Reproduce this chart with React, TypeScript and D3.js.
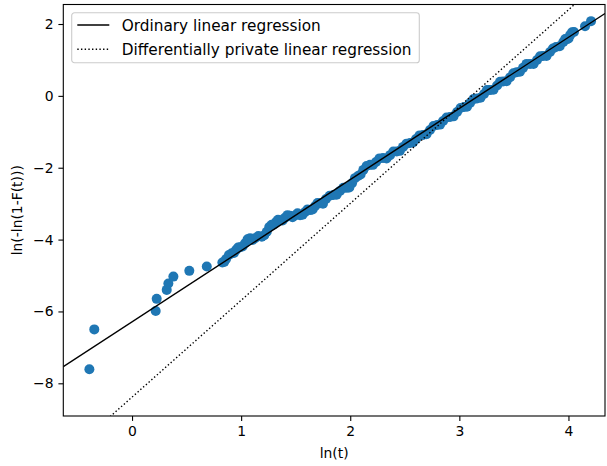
import React, { useRef, useEffect } from 'react';
import * as d3 from 'd3';

// constants
const width = 607;
const height = 466;
const margin = { top: 4.5, right: 2, bottom: 50, left: 63.3 };
const innerWidth = width - margin.left - margin.right;
const innerHeight = height - margin.top - margin.bottom;
const font = 'DejaVu Sans, sans-serif';
const fontSize = 13.9;
const legendFontSize = 15.3;

const lnT = [
  -0.391, -0.346, 0.217, 0.226, 0.318, 0.333, 0.379, 0.525, 0.685,
  0.828, 0.862, 0.914, 0.953, 0.99, 1.036, 1.082, 1.127, 1.189, 1.235,
  1.28, 1.32, 1.357, 1.402, 1.448, 1.494, 1.54, 1.586, 1.632, 1.677,
  1.723, 1.778, 1.845, 1.906, 1.968, 2.016, 2.071, 2.12, 2.181, 2.236,
  2.301, 2.365, 2.426, 2.484, 2.548, 2.603, 2.667, 2.731, 2.796, 2.851,
  2.915, 2.979, 3.043, 3.098, 3.162, 3.226, 3.281, 3.346, 3.401, 3.465,
  3.526, 3.584, 3.648, 3.712, 3.767, 3.831, 3.886, 3.953, 3.987, 4.015,
  4.051, 4.152, 4.207,
  0.845, 0.888, 0.934, 0.972, 1.013, 1.059, 1.105, 1.158, 1.212, 1.258,
  1.3, 1.338, 1.38, 1.425, 1.471, 1.517, 1.563, 1.609, 1.655, 1.7,
  1.75, 1.811, 1.875, 1.937, 1.992, 2.043, 2.095, 2.15, 2.208, 2.268,
  2.333, 2.395, 2.455, 2.516, 2.575, 2.635, 2.699, 2.763, 2.823, 2.883,
  2.947, 3.011, 3.07, 3.13, 3.194, 3.253, 3.313, 3.373, 3.433, 3.495,
  3.555, 3.616, 3.68, 3.74, 3.799, 3.858, 3.92, 3.97, 4.001, 4.033,
];

// ln(-ln(1-F(t))) for the same observations
const lnLnF = [
  -7.61, -6.5, -5.99, -5.65, -5.4, -5.22, -5.03, -4.87, -4.75,
  -4.64, -4.54, -4.38, -4.29, -4.21, -4.1, -3.96, -3.96, -3.92, -3.78,
  -3.59, -3.51, -3.46, -3.39, -3.34, -3.33, -3.32, -3.23, -3.18, -3.07,
  -2.99, -2.87, -2.76, -2.65, -2.56, -2.43, -2.23, -2.06, -1.92, -1.84,
  -1.73, -1.65, -1.55, -1.42, -1.31, -1.2, -1.09, -0.95, -0.81, -0.7,
  -0.59, -0.45, -0.31, -0.2, -0.07, 0.05, 0.16, 0.29, 0.4, 0.52,
  0.66, 0.78, 0.89, 1.0, 1.11, 1.22, 1.36, 1.5, 1.58, 1.69,
  1.78, 1.94, 2.08,
  -4.62, -4.43, -4.37, -4.22, -4.19, -3.99, -4.01, -3.9, -3.88, -3.65,
  -3.58, -3.45, -3.47, -3.32, -3.38, -3.27, -3.31, -3.16, -3.16, -2.98,
  -3.0, -2.78, -2.75, -2.56, -2.55, -2.29, -2.19, -1.95, -1.92, -1.74,
  -1.74, -1.55, -1.53, -1.33, -1.3, -1.1, -1.07, -0.84, -0.8, -0.6,
  -0.57, -0.34, -0.3, -0.09, -0.05, 0.16, 0.17, 0.39, 0.41, 0.63,
  0.67, 0.89, 0.89, 1.1, 1.11, 1.32, 1.38, 1.58, 1.6, 1.77,
];

// fitted lines: [slope, intercept]
const olsFit = [1.98, -6.29];
const dpFit = [2.695, -8.385];

const xTicks = [0, 1, 2, 3, 4];
const yTicks = [-8, -6, -4, -2, 0, 2];

const legendLabels = ['Ordinary linear regression', 'Differentially private linear regression'];

const App = () => {
  const xScale = d3.scaleLinear().domain([-0.63, 4.335]).range([0, innerWidth]);
  const yScale = d3.scaleLinear().domain([-8.91, 2.543]).range([innerHeight, 0]);

  const xAxisRef = useRef<SVGGElement>(null);
  const yAxisRef = useRef<SVGGElement>(null);

  useEffect(() => {
    const fmt = (d: d3.NumberValue) => String(d).replace('-', '\u2212');
    const styleAxis = (g: any) => {
      g.select('.domain').remove();
      g.selectAll('.tick line').attr('stroke', '#000').attr('stroke-width', 1.1);
      g.selectAll('.tick text')
        .attr('fill', '#000')
        .style('font-family', font)
        .style('font-size', `${fontSize}px`);
    };
    d3.select(xAxisRef.current!)
      .call(d3.axisBottom(xScale).tickValues(xTicks).tickFormat(fmt).tickSize(4.9).tickPadding(4.9))
      .call(styleAxis);
    d3.select(yAxisRef.current!)
      .call(d3.axisLeft(yScale).tickValues(yTicks).tickFormat(fmt).tickSize(4.9).tickPadding(4.9))
      .call(styleAxis);
  }, []);

  const points = lnT.map((x, i) => [x, lnLnF[i]]);
  const xDom = xScale.domain();
  const fitLine = (fit: number[]) =>
    d3.line<number>()
      .x(d => xScale(d))
      .y(d => yScale(fit[0] * d + fit[1]))(xDom);

  const lgX = 71.7 - margin.left;
  const lgY = 12.7 - margin.top;

  return (
    <div style={{ position: 'absolute', left: 0, top: 0 }}>
      <svg width={width} height={height} style={{ display: 'block', background: '#fff' }}>
        <defs>
          <clipPath id="plot-clip">
            <rect x={0} y={0} width={innerWidth} height={innerHeight} />
          </clipPath>
        </defs>
        <g transform={`translate(${margin.left},${margin.top})`}>
          <g clipPath="url(#plot-clip)">
            {points.map((d, i) => (
              <circle key={i} cx={xScale(d[0])} cy={yScale(d[1])} r={5} fill="#1f77b4" />
            ))}
            <path d={fitLine(olsFit) ?? ''} fill="none" stroke="#000" strokeWidth={1.39} />
            <path d={fitLine(dpFit) ?? ''} fill="none" stroke="#000" strokeWidth={1.39}
              strokeDasharray="1.39 2.29" />
          </g>
          <rect x={0} y={0} width={innerWidth} height={innerHeight} fill="none" stroke="#000" strokeWidth={1.1} />
          <g ref={xAxisRef} transform={`translate(0,${innerHeight})`} />
          <g ref={yAxisRef} />

          {/* legend */}
          <g transform={`translate(${lgX},${lgY})`}>
            <rect x={0} y={0} width={347.6} height={50} rx={2.8} fill="#fff" fillOpacity={0.8}
              stroke="#cccccc" strokeWidth={1.1} />
            {legendLabels.map((label, i) => (
              <g key={label} transform={`translate(0,${12.3 + i * 24.3})`}>
                <line x1={5.6} x2={37.6} y1={0} y2={0} stroke="#000" strokeWidth={1.39}
                  strokeDasharray={i === 1 ? '1.39 2.29' : undefined} />
                <text x={50} y={0} dy="0.36em" fontFamily={font} fontSize={legendFontSize} fill="#000">{label}</text>
              </g>
            ))}
          </g>
        </g>
        <text x={margin.left + innerWidth / 2} y={458} textAnchor="middle"
          fontFamily={font} fontSize={fontSize} fill="#000">ln(t)</text>
        <text transform={`translate(21.5,${margin.top + innerHeight / 2}) rotate(-90)`} textAnchor="middle"
          fontFamily={font} fontSize={fontSize} fill="#000">ln(-ln(1-F(t)))</text>
      </svg>
    </div>
  );
};

export default App;
